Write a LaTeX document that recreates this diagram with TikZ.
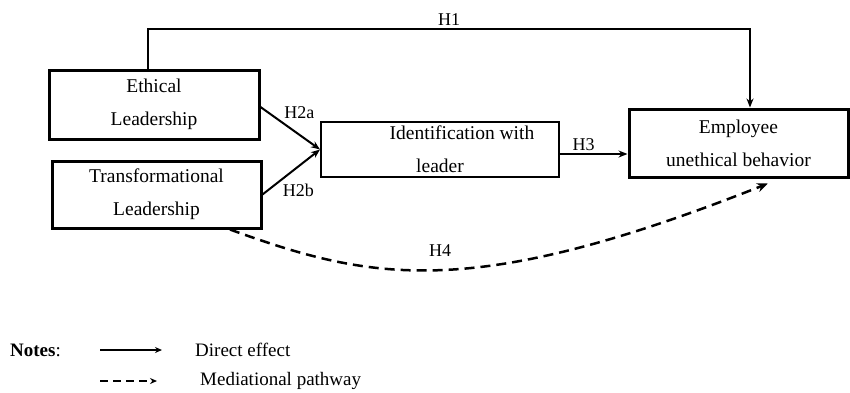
\documentclass[tikz,border=0pt]{standalone}
\usepackage{fontspec}
\setmainfont{Liberation Serif}
\usetikzlibrary{arrows.meta}

\tikzset{
    construct/.style={draw, line width=3pt, align=center, inner sep=0pt, font=\fontsize{19.5}{33}\selectfont},
    effect/.style={line width=2pt, -{Stealth[length=9pt, width=7pt]}},
    mediation/.style={line width=2.5pt, dash pattern=on 10pt off 6pt, -{Stealth[length=11pt, width=9pt]}},
    hyp/.style={font=\fontsize{18}{21}\selectfont, inner sep=2pt}
}

\begin{document}
\begin{tikzpicture}[x=1pt, y=-1pt]
            \useasboundingbox (0,0) rectangle (850,392);
            \node[construct, minimum width=210pt, minimum height=69pt] (ethical_leadership) at (154,104.5) {Ethical \\ Leadership};
            \node[construct, minimum width=209pt, minimum height=67pt] (transformational_leadership) at (156.5,194.5) {Transformational \\ Leadership};
            \node[construct, line width=2pt, minimum width=238pt, minimum height=55pt] (identification) at (440,149.5) {\hspace*{44pt}Identification with \\ leader};
            \node[construct, minimum width=219pt, minimum height=68pt] (unethical_behavior) at (738.5,143) {Employee \\ unethical behavior};
            \draw[effect] ([xshift=-6pt]ethical_leadership.north) -- ++(0,-40) -| ([xshift=11.5pt]unethical_behavior.north) node[hyp, pos=0.25, above] {H1};
            \draw[effect] ([yshift=-2.5pt]ethical_leadership.east) -- (identification.west) node[hyp, pos=0.35, above right] {H2a};
            \draw[effect] (transformational_leadership.east) -- (identification.west) node[hyp, pos=0.3, below right] {H2b};
            \draw[effect] ([yshift=-4.5pt]identification.east) -- ([yshift=-4.5pt]identification.east -| unethical_behavior.west) node[hyp, pos=0.35, above] {H3};
            \draw[mediation] ([xshift=73.5pt]transformational_leadership.south) .. controls +(141,51) and +(-298,118) .. ([xshift=29.5pt, yshift=-5pt]unethical_behavior.south) node[hyp, pos=0.5, above=10pt] {H4};
            % legend
            \node[anchor=west, inner sep=0pt, font=\fontsize{19}{22}\selectfont] (notes) at (10,350) {\textbf{Notes}:};
            \coordinate (direct_start) at (100,350);
            \coordinate (direct_end) at (162,350);
            \draw[line width=2pt, -{Stealth[length=7pt, width=6pt]}] (direct_start) -- (direct_end);
            \node[anchor=west, inner sep=0pt, font=\fontsize{19}{22}\selectfont] (direct_label) at (195,350) {Direct effect};
            \coordinate (mediation_start) at (100,381);
            \coordinate (mediation_end) at (157,381);
            \draw[line width=2pt, dash pattern=on 8pt off 5pt, -{Stealth[length=7pt, width=6pt]}] (mediation_start) -- (mediation_end);
            \node[anchor=west, inner sep=0pt, font=\fontsize{19}{22}\selectfont] (mediation_label) at (200,381) {Mediational pathway};
        \end{tikzpicture}
\end{document}
